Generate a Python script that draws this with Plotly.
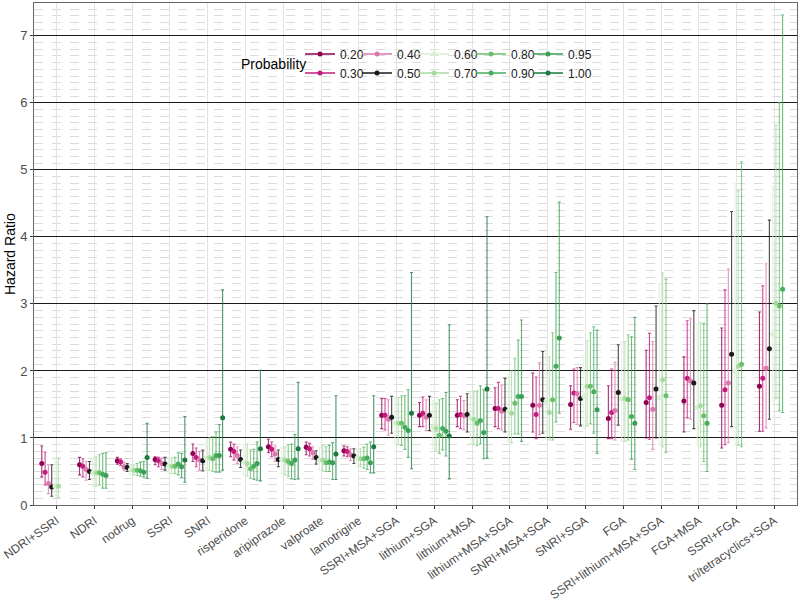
import plotly.graph_objects as go

categories = ["NDRI+SSRI", "NDRI", "nodrug", "SSRI", "SNRI", "risperidone", "aripiprazole",
              "valproate", "lamotrigine", "SSRI+MSA+SGA", "lithium+SGA", "lithium+MSA",
              "lithium+MSA+SGA", "SNRI+MSA+SGA", "SNRI+SGA", "FGA", "SSRI+lithium+MSA+SGA",
              "FGA+MSA", "SSRI+FGA", "tri/tetracyclics+SGA"]
prob_labels = ["0.20", "0.30", "0.40", "0.50", "0.60", "0.70", "0.80", "0.90", "0.95", "1.00"]
N = None

est_020 = [0.62, 0.60, 0.66, 0.68, 0.77, 0.83, 0.87, 0.86, 0.81, 1.34, 1.34, 1.34, 1.44, 1.49, 1.50, 1.29, 1.53, 1.55, 1.49, 1.77]
lo_020 = [0.42, 0.45, 0.61, 0.60, 0.65, 0.72, 0.78, 0.75, 0.73, 1.14, 1.17, 1.17, 1.17, 1.09, 1.13, 0.99, 1.00, 1.09, 0.85, 1.10]
hi_020 = [0.88, 0.71, 0.71, 0.72, 0.91, 0.94, 0.98, 0.94, 0.88, 1.59, 1.53, 1.57, 1.75, 1.97, 1.78, 1.78, 2.31, 2.21, 2.64, 2.88]

est_030 = [0.49, 0.58, 0.64, 0.66, 0.71, 0.80, 0.83, 0.84, 0.80, 1.34, 1.37, 1.35, 1.44, 1.35, 1.67, 1.38, 1.60, 1.89, 1.72, 1.89]
lo_030 = [0.30, 0.42, 0.59, 0.57, 0.57, 0.67, 0.72, 0.73, 0.72, 1.12, 1.17, 1.14, 1.14, 0.99, 1.23, 0.99, 0.98, 1.30, 0.90, 1.10]
hi_030 = [0.79, 0.69, 0.69, 0.71, 0.85, 0.91, 0.94, 0.92, 0.87, 1.59, 1.61, 1.62, 1.83, 1.91, 2.03, 2.03, 2.56, 2.75, 3.21, 3.27]

est_040 = [0.32, 0.53, 0.57, 0.62, 0.67, 0.74, 0.76, 0.78, 0.75, 1.28, 1.31, 1.33, 1.40, 1.49, 1.66, 1.41, 1.43, 1.85, 1.82, 2.04]
lo_040 = [0.17, 0.37, 0.52, 0.53, 0.52, 0.62, 0.65, 0.68, 0.66, 1.04, 1.11, 1.12, 1.12, 1.05, 1.20, 0.97, 0.83, 1.28, 0.93, 1.15]
hi_040 = [0.60, 0.65, 0.64, 0.70, 0.80, 0.87, 0.88, 0.87, 0.84, 1.57, 1.57, 1.56, 1.79, 2.12, 2.05, 2.13, 2.44, 2.78, 3.52, 3.60]

est_050 = [0.27, 0.50, 0.56, 0.61, 0.66, 0.68, 0.68, 0.71, 0.73, 1.31, 1.34, 1.35, 1.43, 1.57, 1.59, 1.68, 1.73, 1.82, 2.25, 2.33]
lo_050 = [0.13, 0.38, 0.50, 0.52, 0.51, 0.56, 0.57, 0.61, 0.62, 1.07, 1.11, 1.09, 1.09, 1.07, 1.18, 1.19, 1.00, 1.14, 1.17, 1.28]
hi_050 = [0.60, 0.65, 0.62, 0.71, 0.82, 0.82, 0.82, 0.81, 0.84, 1.62, 1.62, 1.66, 1.89, 2.29, 2.05, 2.39, 2.97, 2.90, 4.38, 4.25]

est_060 = [0.28, 0.48, 0.53, 0.58, 0.70, 0.64, 0.68, 0.67, 0.70, 1.22, 1.16, 1.30, 1.40, 1.55, 1.62, 1.58, 1.60, 1.45, 2.00, 2.55]
lo_060 = [0.12, 0.28, 0.45, 0.47, 0.52, 0.45, 0.47, 0.52, 0.57, 0.90, 0.84, 0.92, 0.95, 0.98, 1.15, 0.96, 0.90, 0.90, 0.90, 1.55]
hi_060 = [0.70, 0.70, 0.58, 0.70, 0.98, 0.90, 0.85, 0.86, 0.84, 1.58, 1.55, 1.70, 1.95, 2.39, 2.23, 2.43, 3.30, 2.70, 4.80, 4.75]

est_070 = [0.28, 0.48, 0.52, 0.58, 0.71, 0.62, 0.67, 0.67, 0.69, 1.22, 1.14, 1.28, 1.37, 1.38, 1.77, 1.59, 1.87, 1.48, 2.07, 3.01]
lo_070 = [0.11, 0.28, 0.45, 0.47, 0.52, 0.43, 0.45, 0.52, 0.57, 0.90, 0.82, 0.90, 0.93, 0.97, 1.18, 0.95, 0.87, 0.87, 0.89, 1.59]
hi_070 = [0.70, 0.72, 0.60, 0.70, 1.00, 0.91, 0.87, 0.89, 0.84, 1.60, 1.52, 1.70, 2.00, 2.21, 2.45, 2.44, 3.46, 2.72, 4.69, 5.67]

est_080 = [N, 0.48, 0.52, 0.58, 0.69, 0.54, 0.65, 0.63, 0.69, 1.22, 1.04, 1.22, 1.52, 1.57, 1.77, 1.57, 1.63, 1.33, 2.10, 2.97]
lo_080 = [N, 0.30, 0.44, 0.47, 0.50, 0.40, 0.43, 0.50, 0.55, 0.89, 0.77, 0.89, 1.06, 0.97, 1.21, 0.97, 0.78, 0.65, 0.87, 1.41]
hi_080 = [N, 0.75, 0.62, 0.71, 1.02, 0.82, 0.90, 0.87, 0.86, 1.63, 1.57, 1.70, 2.19, 2.57, 2.57, 2.54, 3.37, 2.71, 5.12, 6.00]

est_090 = [N, 0.46, 0.51, 0.61, 0.74, 0.58, 0.62, 0.64, 0.70, 1.16, 1.14, 1.26, 1.62, 2.07, 1.69, 1.32, N, 1.22, N, 3.22]
lo_090 = [N, 0.25, 0.43, 0.45, 0.49, 0.38, 0.39, 0.50, 0.53, 0.83, 0.82, 0.91, 1.06, 1.24, 1.07, 0.68, N, 0.50, N, 1.38]
hi_090 = [N, 0.77, 0.64, 0.78, 1.09, 0.83, 0.91, 0.89, 0.91, 1.63, 1.59, 1.78, 2.46, 3.47, 2.66, 2.51, N, 3.00, N, 7.31]

est_095 = [N, 0.44, 0.49, 0.57, 0.74, 0.62, 0.67, 0.63, 0.63, 1.11, 1.10, 1.08, 1.62, 2.49, 1.42, 1.22, N, N, N, N]
lo_095 = [N, 0.25, 0.42, 0.41, 0.49, 0.37, 0.38, 0.38, 0.48, 0.71, 0.73, 0.69, 0.95, 1.37, 0.77, 0.53, N, N, N, N]
hi_095 = [N, 0.78, 0.65, 0.77, 1.20, 0.94, 1.05, 0.93, 0.94, 1.72, 1.68, 1.72, 2.76, 4.52, 2.61, 2.80, N, N, N, N]

est_100 = [N, N, 0.71, 0.67, 1.30, 0.84, 0.84, 0.76, 0.87, 1.37, 1.03, 1.73, N, N, N, N, N, N, N, N]
lo_100 = [N, N, 0.40, 0.34, 0.52, 0.36, 0.39, 0.38, 0.48, 0.54, 0.39, 0.70, N, N, N, N, N, N, N, N]
hi_100 = [N, N, 1.22, 1.32, 3.21, 2.01, 1.83, 1.63, 1.63, 3.47, 2.69, 4.30, N, N, N, N, N, N, N, N]

series_est = [est_020, est_030, est_040, est_050, est_060, est_070, est_080, est_090, est_095, est_100]
series_lo = [lo_020, lo_030, lo_040, lo_050, lo_060, lo_070, lo_080, lo_090, lo_095, lo_100]
series_hi = [hi_020, hi_030, hi_040, hi_050, hi_060, hi_070, hi_080, hi_090, hi_095, hi_100]

colors = ["#8E0152", "#C51B7D", "#DE77AE", "#1A1A1A", "#D9F0D3",
          "#A6DBA0", "#6ABF69", "#45AD5B", "#3A9E55", "#1B7A3E"]


def rgba(h, a):
    h = h.lstrip("#")
    r, g, b = int(h[0:2], 16), int(h[2:4], 16), int(h[4:6], 16)
    return f"rgba({r},{g},{b},{a})"


L, R, T, B = 34, 3, 3, 95
PW, PH = 800 - L - R, 600 - T - B


def px(xp):
    return (xp - L) / PW


def py(yp):
    return 1 - (yp - T) / PH


fig = go.Figure()
dodge = 0.0875
for j, lab in enumerate(prob_labels):
    xs, ys, up, dn = [], [], [], []
    for i in range(len(categories)):
        e = series_est[j][i]
        if e is None:
            continue
        xs.append(i + (j - 4.5) * dodge)
        ys.append(e)
        up.append(series_hi[j][i] - e)
        dn.append(e - series_lo[j][i])
    fig.add_trace(go.Scatter(
        x=xs, y=ys, mode="markers", showlegend=False,
        marker=dict(color=colors[j], size=5),
        error_y=dict(type="data", symmetric=False, array=up, arrayminus=dn,
                     color=rgba(colors[j], 0.8), thickness=1.1, width=1.5),
        name=lab))

# legend: five columns of two entries (column-major, as in the reference)
legend_names = ["legend", "legend2", "legend3", "legend4", "legend5"]
leg_layout = {}
for c in range(5):
    lg = legend_names[c]
    for j in (2 * c, 2 * c + 1):
        fig.add_trace(go.Scatter(
            x=[None], y=[None], mode="lines+markers", name=prob_labels[j],
            line=dict(color=colors[j], width=1.5), marker=dict(color=colors[j], size=5),
            legend=lg, showlegend=True))
    leg_layout[lg] = dict(x=px(300 + 57 * c), y=py(63.5), xanchor="left", yanchor="middle",
                          orientation="v", itemwidth=30, tracegroupgap=0,
                          font=dict(size=12, color="#1A1A1A"),
                          bgcolor="rgba(255,255,255,0)", itemclick=False,
                          itemdoubleclick=False)

fig.add_shape(type="rect", xref="paper", yref="paper",
              x0=px(232), x1=px(612), y0=py(90), y1=py(40),
              fillcolor="white", line=dict(width=0), layer="between")

fig.add_annotation(text="Probability", xref="paper", yref="paper",
                   x=px(239), y=py(64), xanchor="left", yanchor="middle",
                   showarrow=False, font=dict(size=14, color="black"))

fig.add_annotation(text="Hazard Ratio", xref="paper", yref="paper", textangle=-90,
                   x=px(10), y=py(254), xanchor="center", yanchor="middle",
                   showarrow=False, font=dict(size=14, color="black"))

fig.update_layout(
    width=800, height=600,
    margin=dict(l=L, r=R, t=T, b=B),
    paper_bgcolor="white", plot_bgcolor="white",
    font=dict(family="Liberation Sans, Arial, sans-serif", size=12, color="#4D4D4D"),
    xaxis=dict(range=[-0.6, 19.6], tickmode="array", tickvals=list(range(len(categories))),
               ticktext=categories, tickangle=-35, ticks="outside", ticklen=3,
               tickcolor="#333333", showgrid=True, gridcolor="#E3E3E3", gridwidth=1,
               zeroline=False, showline=True, mirror=True, linecolor="#666666",
               automargin=False, ticklabeloverflow="allow",
               tickfont=dict(size=12, color="#4D4D4D")),
    yaxis=dict(range=[0, 7.49], tickmode="linear", tick0=0, dtick=1, ticks="outside",
               ticklen=3, tickcolor="#333333", showgrid=True, gridcolor="#1A1A1A",
               gridwidth=1.2, zeroline=False, showline=True, mirror=True, linecolor="#666666",
               automargin=False, ticklabeloverflow="allow",
               tickfont=dict(size=13, color="#4D4D4D"),
               minor=dict(dtick=0.1, tick0=0, showgrid=True, gridcolor="#DCDCDC",
                          griddash="dash", gridwidth=1, ticks="")),
    **leg_layout,
)

fig.write_html("out.html", config={"displayModeBar": False},
               post_script="document.body.style.margin='0';")
